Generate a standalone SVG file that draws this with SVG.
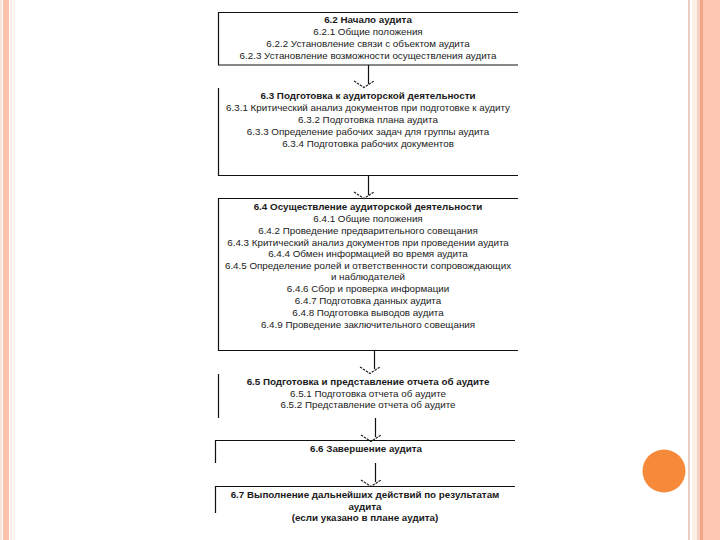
<svg xmlns="http://www.w3.org/2000/svg" width="720" height="540" viewBox="0 0 720 540">
<style>
.t{font-family:"Liberation Sans",Arial,sans-serif;font-size:9.8px;fill:#1a1a1a;text-anchor:middle}
.b{font-weight:bold}
.ln{stroke:#111;stroke-width:1.2;fill:none}
.ar{stroke:#111;stroke-width:1.2;fill:none}
.hd{stroke:#222;stroke-width:1.2;fill:none;stroke-dasharray:2.5 1}
</style>
<rect width="720" height="540" fill="#ffffff"/>
<g id="border">
<rect x="0" y="0" width="2" height="540" fill="#FBE3DA"/>
<rect x="3" y="0" width="6" height="540" fill="#FDC2AC"/>
<rect x="10.5" y="0" width="1" height="540" fill="#F7DAD0"/>
<rect x="13.5" y="0" width="1" height="540" fill="#FBF0E0"/>
<rect x="688" y="0" width="2" height="540" fill="#E8CFC6"/>
<rect x="692" y="0" width="5" height="540" fill="#FBF1E6"/>
<rect x="697" y="0" width="3" height="540" fill="#F6D0C2"/>
<rect x="700" y="0" width="3" height="540" fill="#F0A585"/>
<rect x="703" y="0" width="17" height="540" fill="#FEC8B5"/>
</g>
<circle id="dot" cx="664" cy="471" r="21.5" fill="#F7893B"/>
<g id="n1">
<path class="ln" d="M518 12.5H218.5V65H518"/>
<text class="t b" x="368" y="23">6.2 Начало аудита</text>
<text class="t" x="368" y="35">6.2.1 Общие положения</text>
<text class="t" x="368" y="47">6.2.2 Установление связи с объектом аудита</text>
<text class="t" x="368" y="59">6.2.3 Установление возможности осуществления аудита</text>
</g>
<g id="n2">
<path class="ln" d="M218.5 88V175.5H518"/>
<text class="t b" x="368" y="99">6.3 Подготовка к аудиторской деятельности</text>
<text class="t" x="368" y="111">6.3.1 Критический анализ документов при подготовке к аудиту</text>
<text class="t" x="368" y="123">6.3.2 Подготовка плана аудита</text>
<text class="t" x="368" y="135">6.3.3 Определение рабочих задач для группы аудита</text>
<text class="t" x="368" y="147">6.3.4 Подготовка рабочих документов</text>
</g>
<g id="n3">
<path class="ln" d="M518 198.5H218.5V350.5H518"/>
<text class="t b" x="368" y="210">6.4 Осуществление аудиторской деятельности</text>
<text class="t" x="368" y="221.5">6.4.1 Общие положения</text>
<text class="t" x="368" y="233.5">6.4.2 Проведение предварительного совещания</text>
<text class="t" x="368" y="245.5">6.4.3 Критический анализ документов при проведении аудита</text>
<text class="t" x="368" y="257">6.4.4 Обмен информацией во время аудита</text>
<text class="t" x="368" y="269">6.4.5 Определение ролей и ответственности сопровождающих</text>
<text class="t" x="368" y="280">и наблюдателей</text>
<text class="t" x="368" y="292">6.4.6 Сбор и проверка информации</text>
<text class="t" x="368" y="304">6.4.7 Подготовка данных аудита</text>
<text class="t" x="368" y="316">6.4.8 Подготовка выводов аудита</text>
<text class="t" x="368" y="328">6.4.9 Проведение заключительного совещания</text>
</g>
<g id="n4">
<path class="ln" d="M218.5 374V418"/>
<text class="t b" x="368" y="385">6.5 Подготовка и представление отчета об аудите</text>
<text class="t" x="368" y="396.5">6.5.1 Подготовка отчета об аудите</text>
<text class="t" x="368" y="408">6.5.2 Представление отчета об аудите</text>
</g>
<g id="n5">
<path class="ln" d="M215.5 463V440.5H515"/>
<text class="t b" x="366" y="452">6.6 Завершение аудита</text>
</g>
<g id="n6">
<path class="ln" d="M215.5 513V486.5H515"/>
<text class="t b" x="365" y="498">6.7 Выполнение дальнейших действий по результатам</text>
<text class="t b" x="365" y="509.5">аудита</text>
<text class="t b" x="365" y="521">(если указано в плане аудита)</text>
</g>
<g id="connectors">
<path class="ar" d="M368.5 65V84"/>
<path class="hd" d="M354 81L364 87.5L374 81"/>
<path class="ar" d="M368.5 175.5V195"/>
<path class="hd" d="M354 192L364 198.5L374 192"/>
<path class="ar" d="M374.5 350.5V369"/>
<path class="hd" d="M360 367L370 373.5L380 367"/>
<path class="ar" d="M375.5 418V437"/>
<path class="hd" d="M361 435L371 441.5L381 435"/>
<path class="ar" d="M375.5 463V482"/>
<path class="hd" d="M361 480L371 486.5L381 480"/>
</g>
</svg>
